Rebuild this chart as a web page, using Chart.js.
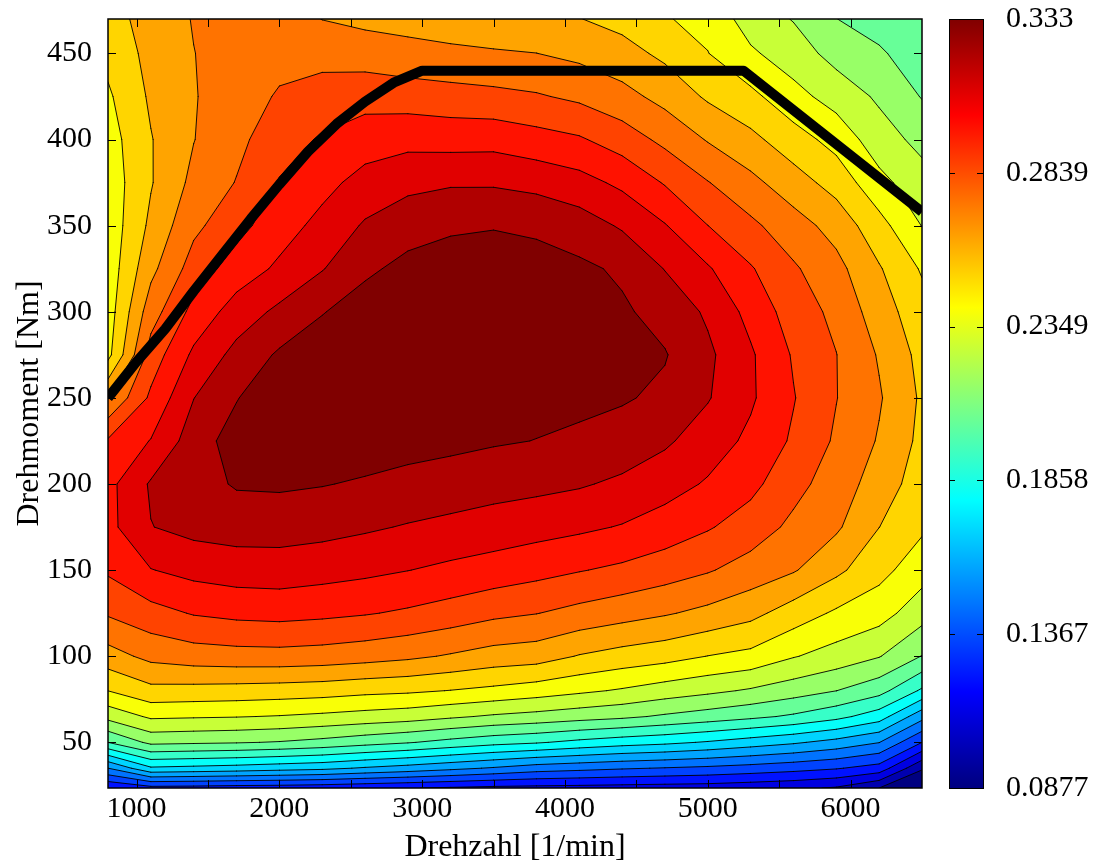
<!DOCTYPE html>
<html>
<head>
<meta charset="utf-8">
<title>Wirkungsgradkennfeld</title>
<script src="https://cdn.jsdelivr.net/npm/chart.js@4.4.1/dist/chart.umd.min.js"></script>
<style>
  html, body { margin: 0; padding: 0; background: #fff; }
  #wrap { width: 1098px; height: 866px; }
</style>
</head>
<body>
<div id="wrap"><canvas id="map" width="1098" height="866"></canvas></div>
<script>
// Drehzahl-Stuetzstellen [1/min]
const speeds = [800, 1100, 1400, 1700, 2000, 2300, 2600, 2900, 3200, 3500,
                3800, 4100, 4400, 4700, 5000, 5300, 5600, 5900, 6200, 6500];
// Drehmoment-Stuetzstellen [Nm]
const torques = [23.5, 35, 50, 65, 80, 100, 125, 150, 175, 200, 225,
                 250, 275, 300, 325, 350, 375, 400, 425, 450, 470];

// Wirkungsgrad je Drehmomentzeile (Spalten wie speeds)
const etaT023 = [0.1215, 0.1284, 0.1278, 0.1267, 0.1262, 0.1251, 0.1234, 0.1217, 0.1200, 0.1184, 0.1178, 0.1173, 0.1167, 0.1161, 0.1156, 0.1139, 0.1122, 0.1089, 0.0989, 0.0877];
const etaT035 = [0.1545, 0.1753, 0.1739, 0.1724, 0.1703, 0.1685, 0.1646, 0.1613, 0.1574, 0.1535, 0.1490, 0.1468, 0.1446, 0.1429, 0.1412, 0.1390, 0.1363, 0.1332, 0.1278, 0.1000];
const etaT050 = [0.1992, 0.2131, 0.2121, 0.2112, 0.2097, 0.2070, 0.2034, 0.2000, 0.1957, 0.1918, 0.1892, 0.1852, 0.1818, 0.1794, 0.1759, 0.1716, 0.1674, 0.1620, 0.1549, 0.1323];
const etaT065 = [0.2251, 0.2345, 0.2338, 0.2332, 0.2321, 0.2304, 0.2284, 0.2265, 0.2232, 0.2200, 0.2177, 0.2150, 0.2126, 0.2088, 0.2053, 0.2017, 0.1975, 0.1914, 0.1823, 0.1584];
const etaT080 = [0.2439, 0.2517, 0.2511, 0.2505, 0.2497, 0.2487, 0.2467, 0.2456, 0.2435, 0.2411, 0.2382, 0.2348, 0.2315, 0.2274, 0.2240, 0.2202, 0.2155, 0.2105, 0.2032, 0.1863];
const etaT100 = [0.2615, 0.2692, 0.2720, 0.2731, 0.2734, 0.2725, 0.2707, 0.2683, 0.2650, 0.2615, 0.2600, 0.2543, 0.2506, 0.2479, 0.2436, 0.2407, 0.2334, 0.2281, 0.2221, 0.2100];
const etaT125 = [0.2786, 0.2844, 0.2892, 0.2913, 0.2921, 0.2909, 0.2892, 0.2868, 0.2837, 0.2799, 0.2776, 0.2739, 0.2706, 0.2672, 0.2632, 0.2583, 0.2497, 0.2421, 0.2373, 0.2261];
const etaT150 = [0.2900, 0.2992, 0.3031, 0.3051, 0.3055, 0.3039, 0.3021, 0.2998, 0.2972, 0.2948, 0.2920, 0.2890, 0.2862, 0.2826, 0.2783, 0.2726, 0.2671, 0.2575, 0.2473, 0.2374];
const etaT175 = [0.2963, 0.3104, 0.3141, 0.3154, 0.3154, 0.3143, 0.3122, 0.3099, 0.3079, 0.3059, 0.3038, 0.3017, 0.2989, 0.2945, 0.2894, 0.2833, 0.2747, 0.2678, 0.2551, 0.2456];
const etaT200 = [0.2963, 0.3120, 0.3174, 0.3230, 0.3235, 0.3224, 0.3207, 0.3187, 0.3169, 0.3149, 0.3136, 0.3118, 0.3087, 0.3042, 0.2984, 0.2914, 0.2810, 0.2718, 0.2611, 0.2494];
const etaT225 = [0.2897, 0.3001, 0.3163, 0.3269, 0.3297, 0.3285, 0.3274, 0.3258, 0.3246, 0.3230, 0.3217, 0.3202, 0.3171, 0.3124, 0.3052, 0.2972, 0.2868, 0.2757, 0.2651, 0.2522];
const etaT250 = [0.2662, 0.2906, 0.3105, 0.3213, 0.3308, 0.3324, 0.3313, 0.3297, 0.3285, 0.3269, 0.3252, 0.3241, 0.3230, 0.3197, 0.3115, 0.3012, 0.2890, 0.2776, 0.2672, 0.2533];
const etaT275 = [0.2405, 0.2822, 0.3018, 0.3141, 0.3235, 0.3285, 0.3319, 0.3313, 0.3302, 0.3285, 0.3274, 0.3255, 0.3241, 0.3226, 0.3129, 0.3011, 0.2873, 0.2775, 0.2651, 0.2516];
const etaT300 = [0.2382, 0.2722, 0.2919, 0.3047, 0.3131, 0.3213, 0.3274, 0.3302, 0.3297, 0.3285, 0.3274, 0.3252, 0.3235, 0.3180, 0.3090, 0.2961, 0.2831, 0.2746, 0.2603, 0.2483];
const etaT325 = [0.2371, 0.2631, 0.2823, 0.2935, 0.3016, 0.3101, 0.3197, 0.3252, 0.3269, 0.3263, 0.3258, 0.3241, 0.3202, 0.3103, 0.3008, 0.2894, 0.2788, 0.2695, 0.2560, 0.2426];
const etaT350 = [0.2366, 0.2574, 0.2747, 0.2847, 0.2948, 0.3029, 0.3120, 0.3172, 0.3203, 0.3214, 0.3201, 0.3161, 0.3094, 0.3003, 0.2885, 0.2797, 0.2708, 0.2620, 0.2478, 0.2324];
const etaT375 = [0.2371, 0.2542, 0.2690, 0.2778, 0.2891, 0.2962, 0.3035, 0.3078, 0.3095, 0.3094, 0.3073, 0.3036, 0.2972, 0.2875, 0.2778, 0.2691, 0.2599, 0.2507, 0.2360, 0.2260];
const etaT400 = [0.2388, 0.2544, 0.2658, 0.2745, 0.2837, 0.2896, 0.2944, 0.2962, 0.2954, 0.2957, 0.2926, 0.2897, 0.2831, 0.2745, 0.2653, 0.2579, 0.2487, 0.2398, 0.2266, 0.2182];
const etaT425 = [0.2421, 0.2567, 0.2654, 0.2722, 0.2784, 0.2820, 0.2842, 0.2832, 0.2817, 0.2803, 0.2784, 0.2751, 0.2698, 0.2625, 0.2534, 0.2467, 0.2364, 0.2282, 0.2197, 0.2098];
const etaT450 = [0.2471, 0.2583, 0.2659, 0.2706, 0.2739, 0.2736, 0.2721, 0.2697, 0.2683, 0.2672, 0.2662, 0.2634, 0.2590, 0.2526, 0.2441, 0.2344, 0.2270, 0.2175, 0.2115, 0.2059];
const etaT470 = [0.2505, 0.2594, 0.2667, 0.2695, 0.2711, 0.2659, 0.2633, 0.2622, 0.2605, 0.2589, 0.2583, 0.2553, 0.2516, 0.2446, 0.2405, 0.2276, 0.2209, 0.2105, 0.2070, 0.2037];

const etaGrid = [etaT023, etaT035, etaT050, etaT065, etaT080, etaT100, etaT125,
                 etaT150, etaT175, etaT200, etaT225, etaT250, etaT275, etaT300,
                 etaT325, etaT350, etaT375, etaT400, etaT425, etaT450, etaT470];

// Volllastkennlinie
const fullLoadSpeed  = [800, 1000, 1200, 1400, 1600, 1800, 2000, 2200, 2400, 2600, 2800, 3000, 5250, 6500];
const fullLoadTorque = [250, 271, 290, 312, 333, 354, 374, 393, 409, 422, 433, 440, 440, 358];

// Hoehenlinien (Wirkungsgrad)
const levels = [0.0989, 0.1100, 0.1212, 0.1323, 0.1435, 0.1546, 0.1658, 0.1769,
                0.1881, 0.1992, 0.2104, 0.2215, 0.2327, 0.2438, 0.2550, 0.2661,
                0.2773, 0.2884, 0.2996, 0.3107, 0.3219];

// Achsteilung
const speedTicks  = [1000, 1500, 2000, 2500, 3000, 3500, 4000, 4500, 5000, 5500, 6000];
const torqueTicks = [50, 100, 150, 200, 250, 300, 350, 400, 450];
const cbTicks  = [0.0877, 0.1367, 0.1858, 0.2349, 0.2839, 0.333];
const cbLabels = ['0.0877', '0.1367', '0.1858', '0.2349', '0.2839', '0.333'];

const FONT = 'Liberation Serif, Times New Roman, serif';

// jet colormap
function jet(t) {
  const c = v => Math.round(255 * Math.max(0, Math.min(1, v)));
  return 'rgb(' + c(1.5 - Math.abs(4 * t - 3)) + ',' +
                  c(1.5 - Math.abs(4 * t - 2)) + ',' +
                  c(1.5 - Math.abs(4 * t - 1)) + ')';
}

const contourPlugin = {
  id: 'contour',
  beforeDatasetsDraw(chart) {
    const { ctx, chartArea: area, scales } = chart;
    const xs = speeds.map(v => scales.x.getPixelForValue(v));
    const ys = torques.map(v => scales.y.getPixelForValue(v));

    ctx.save();
    ctx.beginPath();
    ctx.rect(area.left, area.top, area.right - area.left, area.bottom - area.top);
    ctx.clip();
    ctx.fillStyle = jet(0);
    ctx.fillRect(area.left, area.top, area.right - area.left, area.bottom - area.top);

    const cells = [];
    for (let r = 0; r < torques.length - 1; r++) {
      for (let c = 0; c < speeds.length - 1; c++) {
        cells.push([
          [xs[c], ys[r], etaGrid[r][c]],
          [xs[c + 1], ys[r], etaGrid[r][c + 1]],
          [xs[c + 1], ys[r + 1], etaGrid[r + 1][c + 1]],
          [xs[c], ys[r + 1], etaGrid[r + 1][c]]
        ]);
      }
    }
    const cut = (a, b, lev) => {
      const t = (lev - a[2]) / (b[2] - a[2]);
      return [a[0] + t * (b[0] - a[0]), a[1] + t * (b[1] - a[1])];
    };

    // filled bands, lowest first
    levels.forEach((lev, i) => {
      ctx.beginPath();
      cells.forEach(cell => {
        const pts = [];
        for (let k = 0; k < 4; k++) {
          const a = cell[k], b = cell[(k + 1) % 4];
          const ina = a[2] >= lev, inb = b[2] >= lev;
          if (ina) pts.push([a[0], a[1]]);
          if (ina !== inb) pts.push(cut(a, b, lev));
        }
        if (pts.length > 2) {
          ctx.moveTo(pts[0][0], pts[0][1]);
          for (let k = 1; k < pts.length; k++) ctx.lineTo(pts[k][0], pts[k][1]);
          ctx.closePath();
        }
      });
      ctx.fillStyle = jet((i + 1) / levels.length);
      ctx.fill();
    });

    // contour lines
    ctx.strokeStyle = '#000';
    ctx.lineWidth = 0.9;
    ctx.lineCap = 'round';
    levels.forEach(lev => {
      ctx.beginPath();
      cells.forEach(cell => {
        const hits = [];
        for (let k = 0; k < 4; k++) {
          const a = cell[k], b = cell[(k + 1) % 4];
          const ina = a[2] >= lev, inb = b[2] >= lev;
          if (ina !== inb) hits.push({ p: cut(a, b, lev), out: ina });
        }
        for (let k = 0; k < hits.length; k++) {
          if (!hits[k].out) continue;
          const next = hits[(k + 1) % hits.length];
          ctx.moveTo(hits[k].p[0], hits[k].p[1]);
          ctx.lineTo(next.p[0], next.p[1]);
        }
      });
      ctx.stroke();
    });
    ctx.restore();
  },

  afterDraw(chart) {
    const { ctx, chartArea: area, scales } = chart;
    const tl = 8;
    ctx.save();
    ctx.strokeStyle = '#000';
    ctx.lineWidth = 1;

    // inward ticks on all four sides
    ctx.beginPath();
    scales.x.ticks.forEach(t => {
      const px = Math.round(scales.x.getPixelForValue(t.value)) + 0.5;
      ctx.moveTo(px, area.bottom); ctx.lineTo(px, area.bottom - tl);
      ctx.moveTo(px, area.top); ctx.lineTo(px, area.top + tl);
    });
    scales.y.ticks.forEach(t => {
      const py = Math.round(scales.y.getPixelForValue(t.value)) + 0.5;
      ctx.moveTo(area.left, py); ctx.lineTo(area.left + tl, py);
      ctx.moveTo(area.right, py); ctx.lineTo(area.right - tl, py);
    });
    ctx.stroke();

    ctx.lineWidth = 1.5;
    ctx.strokeRect(area.left, area.top, area.right - area.left, area.bottom - area.top);

    // colorbar
    const cb = scales.cb;
    const x0 = area.right + 27, x1 = area.right + 61;
    const top = cb.getPixelForValue(cb.max), bot = cb.getPixelForValue(cb.min);
    const grad = ctx.createLinearGradient(0, bot, 0, top);
    for (let i = 0; i <= 64; i++) grad.addColorStop(i / 64, jet(i / 64));
    ctx.fillStyle = grad;
    ctx.fillRect(x0, top, x1 - x0, bot - top);
    ctx.lineWidth = 1;
    ctx.strokeRect(x0 + 0.5, top + 0.5, x1 - x0, bot - top);
    ctx.beginPath();
    cb.ticks.forEach(t => {
      const py = Math.round(cb.getPixelForValue(t.value)) + 0.5;
      ctx.moveTo(x0, py); ctx.lineTo(x0 + 6, py);
      ctx.moveTo(x1, py); ctx.lineTo(x1 - 6, py);
    });
    ctx.stroke();
    ctx.restore();
  }
};

const tickFont = { family: FONT, size: 30 };
const titleFont = { family: FONT, size: 32, lineHeight: 1 };

// keep the plot area fixed: no extra padding from tick labels
const noPad = s => { s.paddingTop = 0; s.paddingBottom = 0; s.paddingLeft = 0; s.paddingRight = 0; };

new Chart(document.getElementById('map'), {
  type: 'scatter',
  data: {
    datasets: [{
      label: 'Volllast',
      data: fullLoadSpeed.map((n, i) => ({ x: n, y: fullLoadTorque[i] })),
      showLine: true,
      borderColor: '#000',
      borderWidth: 10,
      borderJoinStyle: 'round',
      pointRadius: 0,
      tension: 0,
      clip: 0
    }]
  },
  options: {
    responsive: false,
    animation: false,
    devicePixelRatio: 1,
    layout: { padding: { top: 19, left: 0, right: 0, bottom: 0 } },
    plugins: { legend: { display: false }, tooltip: { enabled: false } },
    scales: {
      x: {
        type: 'linear', position: 'bottom', min: 800, max: 6500, bounds: 'data',
        grid: { display: false, drawTicks: false }, border: { display: false },
        afterBuildTicks: s => { s.ticks = speedTicks.map(v => ({ value: v })); },
        ticks: {
          autoSkip: false, maxRotation: 0, padding: 3, color: '#000', font: tickFont,
          callback: v => (v % 1000 === 0 ? String(v) : '')
        },
        title: { display: true, text: 'Drehzahl [1/min]', color: '#000', font: titleFont, padding: { top: 0, bottom: 2 } },
        afterFit: s => { s.height = 78; noPad(s); }
      },
      y: {
        type: 'linear', position: 'left', min: 23.5, max: 470, bounds: 'data',
        grid: { display: false, drawTicks: false }, border: { display: false },
        afterBuildTicks: s => { s.ticks = torqueTicks.map(v => ({ value: v })); },
        ticks: { autoSkip: false, padding: 16, color: '#000', font: tickFont },
        title: { display: true, text: 'Drehmoment [Nm]', color: '#000', font: titleFont, padding: { top: 14, bottom: 0 } },
        afterFit: s => { s.width = 108; noPad(s); }
      },
      cb: {
        type: 'linear', axis: 'y', position: 'right', min: 0.0877, max: 0.333, bounds: 'data',
        grid: { display: false, drawTicks: false }, border: { display: false },
        afterBuildTicks: s => { s.ticks = cbTicks.map(v => ({ value: v })); },
        ticks: { autoSkip: false, padding: 84, color: '#000', font: tickFont, callback: (v, i) => cbLabels[i] },
        afterFit: s => { s.width = 176; noPad(s); }
      }
    }
  },
  plugins: [contourPlugin]
});
</script>
</body>
</html>
